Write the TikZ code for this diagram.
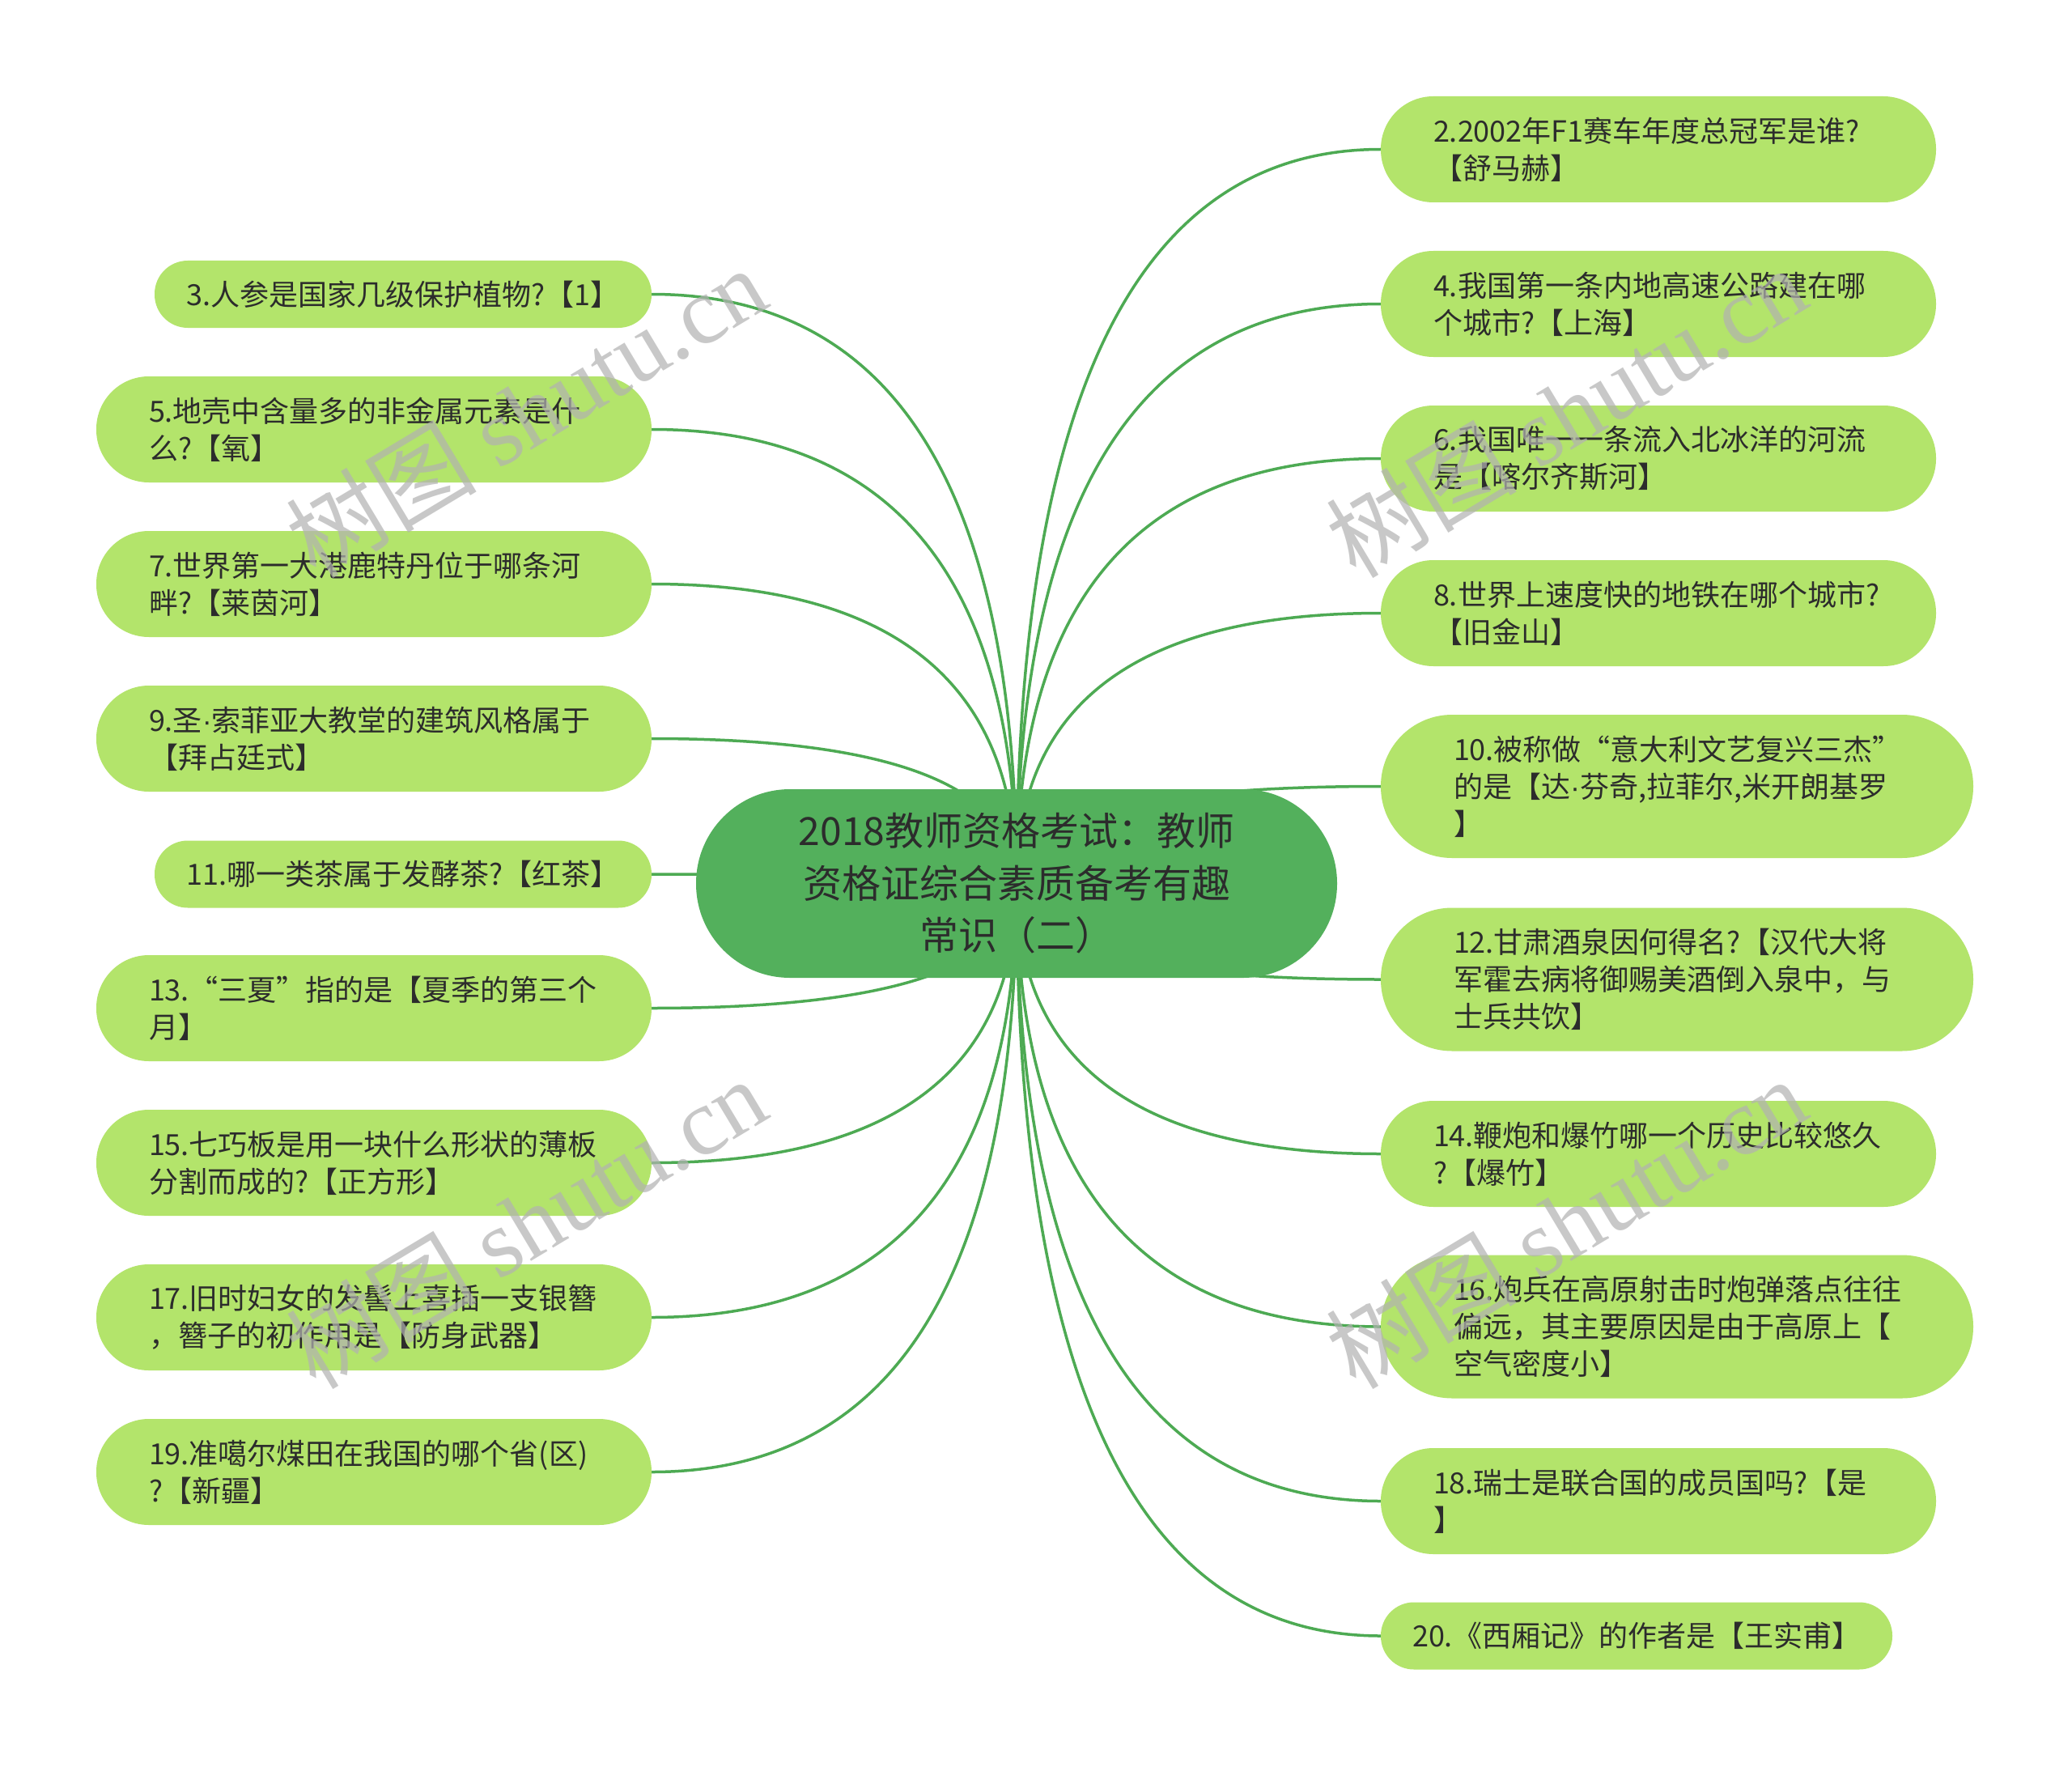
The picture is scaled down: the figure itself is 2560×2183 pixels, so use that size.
\documentclass[tikz,border=0pt]{standalone}
\usepackage{fontspec}
\setmainfont{Noto Sans CJK SC}
\newfontfamily\wmlatin{Liberation Serif}
\newfontfamily\latinsans{Liberation Sans}
\usetikzlibrary{calc,backgrounds}
\definecolor{leafgreen}{HTML}{B3E46B}
\definecolor{rootgreen}{HTML}{53B05C}
\definecolor{linkgreen}{HTML}{4DAA53}
\definecolor{txtdark}{HTML}{2C2C2C}
\newcommand{\mdot}{{\latinsans ·}}
\begin{document}
\begin{tikzpicture}[x=1pt,y=-1pt,
  leaf/.style={rectangle, fill=leafgreen, text=txtdark, font=\fontsize{36}{46}\selectfont, inner ysep=0pt},
  leaftwo/.style={leaf, minimum height=131pt, rounded corners=65pt, align=left, inner xsep=65pt, text width=556pt},
  leafthree/.style={leaf, minimum height=177pt, rounded corners=88pt, align=left, inner xsep=90pt, text width=552pt},
  leafone/.style={leaf, minimum height=83pt, rounded corners=41pt, align=center, inner xsep=0pt},
  rootbox/.style={rectangle, fill=rootgreen, text=txtdark, minimum width=792pt, minimum height=233pt, rounded corners=116pt, align=center, font=\fontsize{48}{64.5}\selectfont},
  link/.style={draw=linkgreen, line width=3.5pt},
  wm/.style={text=black!30, opacity=0.7, font=\fontsize{118}{118}\selectfont, rotate=31, inner sep=0pt}
]
\useasboundingbox (0,0) rectangle (2560,2183);

% root
\node[rootbox] (root) at (1256,1091.5) {2018教师资格考试：教师\\资格证综合素质备考有趣\\常识（二）};

% left side
\node[leafone, minimum width=614pt] (n3) at (498,363.5) {3.人参是国家几级保护植物?【1】};
\node[leaftwo] (n5) at (462,530.5) {5.地壳中含量多的非金属元素是什\\么?【氧】};
\node[leaftwo] (n7) at (462,721.5) {7.世界第一大港鹿特丹位于哪条河\\畔?【莱茵河】};
\node[leaftwo] (n9) at (462,912.5) {9.圣\mdot 索菲亚大教堂的建筑风格属于\\【拜占廷式】};
\node[leafone, minimum width=614pt] (n11) at (498,1080) {11.哪一类茶属于发酵茶?【红茶】};
\node[leaftwo] (n13) at (462,1245.5) {13.“三夏”指的是【夏季的第三个\\月】};
\node[leaftwo] (n15) at (462,1436.5) {15.七巧板是用一块什么形状的薄板\\分割而成的?【正方形】};
\node[leaftwo] (n17) at (462,1627.5) {17.旧时妇女的发髻上喜插一支银簪\\，簪子的初作用是【防身武器】};
\node[leaftwo] (n19) at (462,1818.5) {19.准噶尔煤田在我国的哪个省(区)\\?【新疆】};

% right side
\node[leaftwo] (n2) at (2049,184.5) {2.2002年F1赛车年度总冠军是谁?\\【舒马赫】};
\node[leaftwo] (n4) at (2049,375.5) {4.我国第一条内地高速公路建在哪\\个城市?【上海】};
\node[leaftwo] (n6) at (2049,566.5) {6.我国唯一一条流入北冰洋的河流\\是【喀尔齐斯河】};
\node[leaftwo] (n8) at (2049,757.5) {8.世界上速度快的地铁在哪个城市?\\【旧金山】};
\node[leafthree] (n10) at (2072,971.5) {10.被称做“意大利文艺复兴三杰”\\的是【达\mdot 芬奇,拉菲尔,米开朗基罗\\】};
\node[leafthree] (n12) at (2072,1210) {12.甘肃酒泉因何得名?【汉代大将\\军霍去病将御赐美酒倒入泉中，与\\士兵共饮】};
\node[leaftwo] (n14) at (2049,1425.5) {14.鞭炮和爆竹哪一个历史比较悠久\\?【爆竹】};
\node[leafthree] (n16) at (2072,1639) {16.炮兵在高原射击时炮弹落点往往\\偏远，其主要原因是由于高原上【\\空气密度小】};
\node[leaftwo] (n18) at (2049,1854.5) {18.瑞士是联合国的成员国吗?【是\\】};
\node[leafone, minimum width=632pt] (n20) at (2022,2021) {20.《西厢记》的作者是【王实甫】};

% connectors
\begin{pgfonlayer}{background}
\fill[white] (0,0) rectangle (2560,2183);
\foreach \n/\a in {n3/east,n5/east,n7/east,n9/east,n11/east,n13/east,n15/east,n17/east,n19/east,
                   n2/west,n4/west,n6/west,n8/west,n10/west,n12/west,n14/west,n16/west,n18/west,n20/west}{
  \draw[link] (root.center) .. controls ($(root.center)!0.6667!(root.center|-\n.\a)$) and ($(\n.\a)!0.6667!(root.center|-\n.\a)$) .. (\n.\a);
}
\end{pgfonlayer}

% watermarks
\node[wm] (wm1) at (650,508) {树图 {\wmlatin shutu.cn}};
\node[wm] (wm2) at (1935,508) {树图 {\wmlatin shutu.cn}};
\node[wm] (wm3) at (650,1510) {树图 {\wmlatin shutu.cn}};
\node[wm] (wm4) at (1935,1510) {树图 {\wmlatin shutu.cn}};
\end{tikzpicture}
\end{document}
